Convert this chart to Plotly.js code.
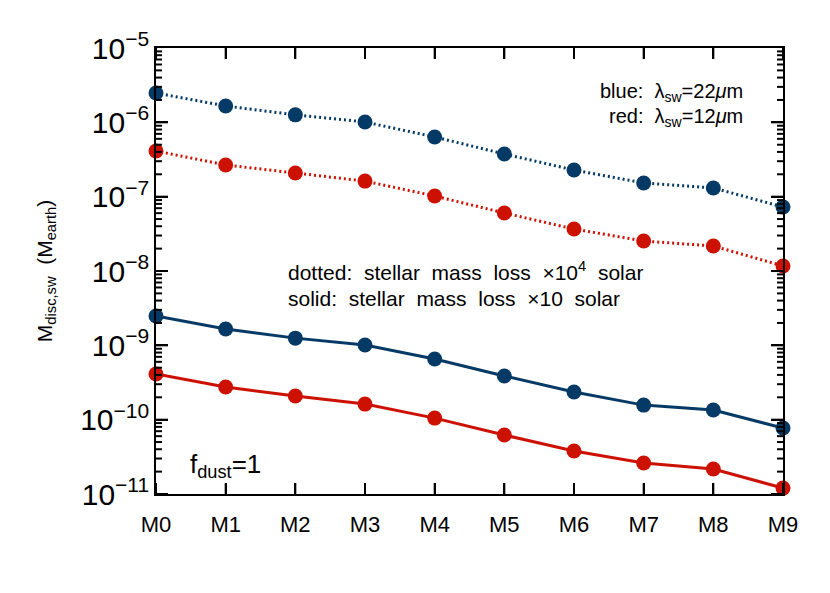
<!DOCTYPE html>
<html><head><meta charset="utf-8">
<script src="https://cdn.plot.ly/plotly-3.0.1.min.js"></script>
<style>html,body{margin:0;padding:0;background:#fff}</style>
</head><body>
<div id="chart" style="width:830px;height:593px"></div>
<script>
const categories = ["M0","M1","M2","M3","M4","M5","M6","M7","M8","M9"];
const blueDotted = [2.48e-6,1.66e-6,1.26e-6,1.01e-6,6.35e-7,3.75e-7,2.28e-7,1.53e-7,1.31e-7,7.26e-8];
const redDotted  = [4.11e-7,2.67e-7,2.08e-7,1.62e-7,1.02e-7,6.03e-8,3.67e-8,2.53e-8,2.17e-8,1.17e-8];
const blueSolid  = [2.48e-9,1.66e-9,1.25e-9,1.01e-9,6.55e-10,3.87e-10,2.36e-10,1.57e-10,1.35e-10,7.72e-11];
const redSolid   = [4.11e-10,2.75e-10,2.08e-10,1.62e-10,1.05e-10,6.21e-11,3.78e-11,2.61e-11,2.17e-11,1.20e-11];
const decades = [-11,-10,-9,-8,-7,-6];
const minorMult = [2,3,4,5,6,7,8,9];

const BLUE = "#063a66", RED = "#cc1100";
const xs = categories.map((c,i)=>i);
function tr(y,color,dash){
  return {x:xs,y:y,type:"scatter",mode:"lines+markers",cliponaxis:false,
    line:{color:color,width:3,dash:dash},marker:{color:color,size:15},showlegend:false};
}
const data = [tr(blueDotted,BLUE,"2px,3px"),tr(redDotted,RED,"2px,3px"),tr(blueSolid,BLUE,"solid"),tr(redSolid,RED,"solid")];
const F = "Liberation Sans, Arial, sans-serif";

const YR = [-11,-5], PW = 627, PH = 446;
const yfrac = v => (Math.log10(v)-YR[0])/(YR[1]-YR[0]);
const tick = (o)=>Object.assign({type:"line",layer:"above",line:{color:"#000",width:2}},o);
const shapes = [];
xs.forEach(i=>{
  shapes.push(tick({xref:"x",yref:"paper",x0:i,x1:i,y0:0,y1:11/PH}));
  shapes.push(tick({xref:"x",yref:"paper",x0:i,x1:i,y0:1,y1:1-11/PH}));
});
decades.forEach(d=>{
  const f = yfrac(Math.pow(10,d));
  shapes.push(tick({xref:"paper",yref:"paper",x0:0,x1:12/PW,y0:f,y1:f}));
  shapes.push(tick({xref:"paper",yref:"paper",x0:1,x1:1-12/PW,y0:f,y1:f}));
  minorMult.forEach(m=>{
    const g = yfrac(m*Math.pow(10,d));
    shapes.push(tick({xref:"paper",yref:"paper",x0:0,x1:6/PW,y0:g,y1:g}));
    shapes.push(tick({xref:"paper",yref:"paper",x0:1,x1:1-6/PW,y0:g,y1:g}));
  });
});

const layout = {
  width:830,height:593,margin:{l:156,r:47,t:48,b:99},
  paper_bgcolor:"#fff",plot_bgcolor:"#fff",
  font:{family:F,color:"#000"},
  xaxis:{range:[0,9],tickmode:"array",tickvals:xs,ticktext:categories,
    ticks:"inside",ticklen:11,tickwidth:2,tickcolor:"#000",
    showline:true,linecolor:"#000",linewidth:2,mirror:"ticks",showgrid:false,zeroline:false,
    tickfont:{size:22,family:F},ticklabelstandoff:10},
  yaxis:{type:"log",range:YR,dtick:1,exponentformat:"power",
    ticks:"inside",ticklen:12,tickwidth:2,tickcolor:"#000",
    showline:true,linecolor:"#000",linewidth:2,mirror:"ticks",showgrid:false,zeroline:false,
    tickfont:{size:24,family:F},
    title:{text:"M<sub>disc,sw</sub>  (M<sub>earth</sub>)",font:{size:21,family:F},standoff:22}},
  shapes:shapes,
  annotations:[
    {xref:"paper",yref:"paper",x:(745-156)/627,y:(494-93)/446,xanchor:"right",yanchor:"middle",showarrow:false,
      text:"blue:  λ<sub>sw</sub>=22<i>μ</i>m",font:{size:20,family:F}},
    {xref:"paper",yref:"paper",x:(745-156)/627,y:(494-117)/446,xanchor:"right",yanchor:"middle",showarrow:false,
      text:"red:  λ<sub>sw</sub>=12<i>μ</i>m",font:{size:20,family:F}},
    {xref:"paper",yref:"paper",x:(286-156)/627,y:(494-271)/446,xanchor:"left",yanchor:"middle",showarrow:false,
      text:"dotted:  stellar  mass  loss  ×10<sup>4</sup>  solar",font:{size:21,family:F}},
    {xref:"paper",yref:"paper",x:(286-156)/627,y:(494-298)/446,xanchor:"left",yanchor:"middle",showarrow:false,
      text:"solid:  stellar  mass  loss  ×10  solar",font:{size:21,family:F}},
    {xref:"paper",yref:"paper",x:(188-156)/627,y:(494-465)/446,xanchor:"left",yanchor:"middle",showarrow:false,
      text:"f<sub>dust</sub>=1",font:{size:26,family:F}}
  ]
};
Plotly.newPlot("chart",data,layout,{displayModeBar:false,staticPlot:true});
</script>
</body></html>
